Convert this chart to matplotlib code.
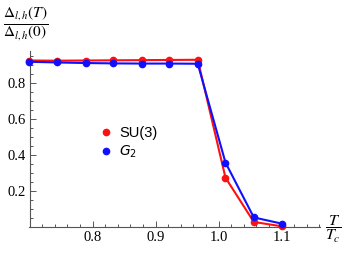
import matplotlib
matplotlib.use('Agg')
import matplotlib.pyplot as plt
from matplotlib.lines import Line2D
from matplotlib.ticker import MultipleLocator

plt.rcParams['mathtext.fontset'] = 'stix'

# T / Tc
t_ratio = [0.700, 0.744, 0.789, 0.833, 0.878, 0.922, 0.967, 1.011, 1.056, 1.100]
su3 = [0.925, 0.924, 0.925, 0.926, 0.927, 0.928, 0.929, 0.274, 0.028, 0.004]
g2 = [0.918, 0.914, 0.911, 0.909, 0.908, 0.908, 0.907, 0.358, 0.053, 0.019]

xticks = [0.8, 0.9, 1.0, 1.1]
yticks = [0.2, 0.4, 0.6, 0.8]

fig = plt.figure(figsize=(3.54, 2.54), dpi=100)
ax = fig.add_axes([29.5 / 354, 27 / 254, 290.5 / 354, 176.4 / 254])

ax.plot(t_ratio, su3, color='#ff1010', lw=1.5, marker='o', ms=4.5,
        clip_on=False, zorder=3)
ax.plot(t_ratio, g2, color='#1010ff', lw=1.5, marker='o', ms=4.5,
        clip_on=False, zorder=4)

ax.set_xlim(0.7, 1.161)
ax.set_ylim(0, 0.98)

for s in ['top', 'right']:
    ax.spines[s].set_visible(False)
for s in ['left', 'bottom']:
    ax.spines[s].set_color('#555555')
    ax.spines[s].set_linewidth(0.8)

ax.set_xticks(xticks)
ax.set_xticklabels(['0.8', '0.9', '1.0', '1.1'])
ax.set_yticks(yticks)
ax.set_yticklabels(['0.2', '0.4', '0.6', '0.8'])
ax.xaxis.set_minor_locator(MultipleLocator(0.02))
ax.yaxis.set_minor_locator(MultipleLocator(0.05))
ax.tick_params(which='both', direction='in', color='#555555', width=0.7)
ax.tick_params(which='major', length=4, pad=3)
ax.tick_params(which='minor', length=2)
for lab in ax.get_xticklabels() + ax.get_yticklabels():
    lab.set_fontfamily('Liberation Serif')
    lab.set_fontsize(10.5)

fig.text(26 / 354, 1 - 23 / 254,
         r'$\dfrac{\Delta_{l,h}(T)}{\Delta_{l,h}(0)}$',
         fontsize=11, ha='center', va='center')
fig.text(333 / 354, 1 - 229 / 254, r'$\dfrac{T}{T_c}$',
         fontsize=11.5, ha='center', va='center')

handles = [Line2D([], [], ls='none', marker='o', ms=4.5, color='#ff1010'),
           Line2D([], [], ls='none', marker='o', ms=4.5, color='#1010ff')]
leg = ax.legend(handles, ['SU(3)', r'$G_2$'], loc='center left',
                bbox_to_anchor=(87 / 354, 1 - 143 / 254),
                bbox_transform=fig.transFigure, frameon=False,
                handlelength=0.8, handletextpad=0.5, labelspacing=0.3,
                prop={'family': 'Liberation Sans', 'size': 10.5})
leg.get_texts()[1].set_math_fontfamily('dejavusans')
leg.get_texts()[1].set_fontsize(10)

fig.savefig('out.png', dpi=100)
